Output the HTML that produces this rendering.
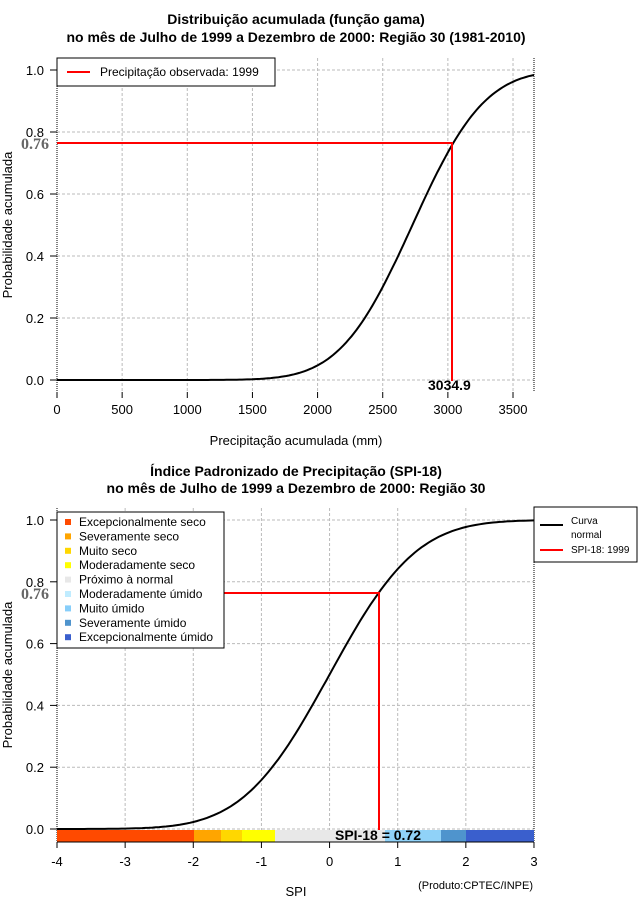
<!DOCTYPE html><html><head><meta charset="utf-8"><style>body{margin:0;background:#fff}svg{display:block;font-family:"Liberation Sans",sans-serif}</style></head><body>
<svg id="s" width="640" height="900" xmlns="http://www.w3.org/2000/svg">
<rect width="640" height="900" fill="#fff"/>
<g font-weight="bold" font-size="14" text-anchor="middle">
<text x="296" y="24">Distribuição acumulada (função gama)</text>
<text x="296" y="42">no mês de Julho de 1999 a Dezembro de 2000: Região 30 (1981-2010)</text>
<text x="296" y="476">Índice Padronizado de Precipitação (SPI-18)</text>
<text x="296" y="493">no mês de Julho de 1999 a Dezembro de 2000: Região 30</text>
</g>
<g id="grid" stroke="#bbb" stroke-dasharray="3,2" stroke-width="1"></g>
<g stroke="#000" stroke-dasharray="1,1"><line x1="57" y1="58" x2="57" y2="392"/><line x1="534" y1="58" x2="534" y2="392"/><line x1="57" y1="508" x2="57" y2="842"/><line x1="534" y1="508" x2="534" y2="842"/></g>
<g id="ticks" stroke="#000"></g>
<g id="lab" font-size="13"></g>
<path id="c1" fill="none" stroke="#000" stroke-width="2"/>
<path id="c2" fill="none" stroke="#000" stroke-width="2"/>
<g>
<rect x="57" y="830" width="137" height="12" fill="#ff4a00"/>
<rect x="194" y="830" width="27" height="12" fill="#ffa500"/>
<rect x="221" y="830" width="21" height="12" fill="#ffd700"/>
<rect x="242" y="830" width="33" height="12" fill="#ffff00"/>
<rect x="275" y="830" width="110" height="12" fill="#e8e8e8"/>
<rect x="385" y="830" width="56" height="12" fill="#90d2f8"/>
<rect x="441" y="830" width="25" height="12" fill="#4f94cd"/>
<rect x="466" y="830" width="68" height="12" fill="#3a5fcd"/>
<line x1="57" y1="842" x2="534" y2="842" stroke="#000"/>
</g>
<g stroke="#f00" stroke-width="2" fill="none">
<polyline points="57,143 452,143 452,381"/>
<polyline points="57,593 379,593 379,830"/>
</g>
<g font-size="16" font-weight="bold" font-family="Liberation Serif,serif" fill="#666"><text x="21" y="149">0.76</text><text x="21" y="599">0.76</text></g>
<text x="428" y="390" font-size="14" font-weight="bold">3034.9</text>
<text x="335" y="840" font-size="14" font-weight="bold">SPI-18 = 0.72</text>
<rect x="57" y="58" width="218" height="28" fill="#fff" stroke="#000"/>
<line x1="67" y1="72" x2="90" y2="72" stroke="#f00" stroke-width="2"/>
<text x="100" y="76" font-size="12">Precipitação observada: 1999</text>
<rect x="57" y="512" width="167" height="136" fill="#fff" stroke="#000"/>
<g font-size="12" id="lg"></g>
<rect x="534" y="507" width="103" height="55" fill="#fff" stroke="#000"/>
<line x1="540" y1="525" x2="563" y2="525" stroke="#000" stroke-width="2"/>
<line x1="540" y1="550" x2="563" y2="550" stroke="#f00" stroke-width="2"/>
<g font-size="10"><text x="571" y="524">Curva</text><text x="571" y="538">normal</text><text x="571" y="553">SPI-18: 1999</text></g>
<g font-size="13" text-anchor="middle"><text x="296" y="445">Precipitação acumulada (mm)</text><text x="296" y="896">SPI</text></g>
<text x="533" y="889" font-size="11" text-anchor="end">(Produto:CPTEC/INPE)</text>
<g font-size="13" text-anchor="middle"><text transform="translate(12,225) rotate(-90)">Probabilidade acumulada</text><text transform="translate(12,675) rotate(-90)">Probabilidade acumulada</text></g>
</svg>
<script>
function erf(x){var s=x<0?-1:1;x=Math.abs(x);var t=1/(1+0.3275911*x);var y=1-((((1.061405429*t-1.453152027)*t+1.421413741)*t-0.284496736)*t+0.254829592)*t*Math.exp(-x*x);return s*y;}
function N(z){return 0.5*(1+erf(z/Math.SQRT2));}
var NS="http://www.w3.org/2000/svg";
function el(p,t,a,txt){var e=document.createElementNS(NS,t);for(var k in a)e.setAttribute(k,a[k]);if(txt!=null)e.textContent=txt;document.getElementById(p).appendChild(e);}
var d="";for(var x=0;x<=3660;x+=20){var p=x<400?0:N((x-2728)/435);d+=(x?"L":"M")+(57+x*0.13029).toFixed(1)+","+(380-p*310).toFixed(1);}
document.getElementById("c1").setAttribute("d",d);
d="";for(var s=-4;s<=3.001;s+=0.05){d+=(s>-4?"L":"M")+(57+(s+4)*68.14).toFixed(1)+","+(829-N(s)*309).toFixed(1);}
document.getElementById("c2").setAttribute("d",d);
for(var i=0;i<=7;i++){var X=57+i*500*0.13029;if(i>0)el("grid","line",{x1:X,y1:58,x2:X,y2:392});el("ticks","line",{x1:X,y1:392,x2:X,y2:398});el("lab","text",{x:X,y:414,"text-anchor":"middle"},i*500);}
for(var i=0;i<=5;i++){var Y=380-i*0.2*310;el("grid","line",{x1:57,y1:Y,x2:534,y2:Y});el("ticks","line",{x1:50,y1:Y,x2:57,y2:Y});el("lab","text",{x:44,y:Y+5,"text-anchor":"end"},(i*0.2).toFixed(1));
var Y2=829-i*0.2*309;el("grid","line",{x1:57,y1:Y2,x2:534,y2:Y2});el("ticks","line",{x1:50,y1:Y2,x2:57,y2:Y2});el("lab","text",{x:44,y:Y2+5,"text-anchor":"end"},(i*0.2).toFixed(1));}
for(var i=0;i<=7;i++){var X=57+i*68.14;if(i>0&&i<7)el("grid","line",{x1:X,y1:508,x2:X,y2:842});el("ticks","line",{x1:X,y1:842,x2:X,y2:848});el("lab","text",{x:X,y:866,"text-anchor":"middle"},i-4);}
var L=[["Excepcionalmente seco","#ff4a00"],["Severamente seco","#ffa500"],["Muito seco","#ffd700"],["Moderadamente seco","#ffff00"],["Próximo à normal","#e8e8e8"],["Moderadamente úmido","#c0ecff"],["Muito úmido","#87cefa"],["Severamente úmido","#4f94cd"],["Excepcionalmente úmido","#3a5fcd"]];
L.forEach(function(l,i){var y=522+i*14.4;el("lg","rect",{x:65,y:y-3,width:6,height:6,fill:l[1]});el("lg","text",{x:79,y:y+4},l[0]);});
</script>
</body></html>
